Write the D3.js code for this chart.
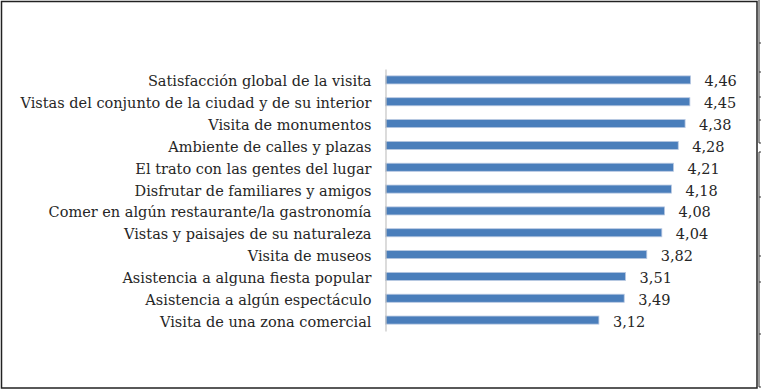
<!DOCTYPE html>
<html>
<head>
<meta charset="utf-8">
<script src="https://cdn.jsdelivr.net/npm/d3@7"></script>
<style>
  body { margin: 0; background: #fff; }
  svg text { font-family: "DejaVu Serif", serif; fill: #262626; }
</style>
</head>
<body>
<svg width="761" height="391"></svg>
<script>
// data
var categories = [
  "Satisfacción global de la visita",
  "Vistas del conjunto de la ciudad y de su interior",
  "Visita de monumentos",
  "Ambiente de calles y plazas",
  "El trato con las gentes del lugar",
  "Disfrutar de familiares y amigos",
  "Comer en algún restaurante/la gastronomía",
  "Vistas y paisajes de su naturaleza",
  "Visita de museos",
  "Asistencia a alguna fiesta popular",
  "Asistencia a algún espectáculo",
  "Visita de una zona comercial"
];
var values = [4.46, 4.45, 4.38, 4.28, 4.21, 4.18, 4.08, 4.04, 3.82, 3.51, 3.49, 3.12];
var xDomain = [0, 5];

var svg = d3.select("svg");

var es = d3.formatLocale({decimal: ",", thousands: ".", grouping: [3], currency: ["", " €"]});
var fmt = es.format(".2f");

var plot = {left: 385.5, right: 727.5, top: 69, bottom: 331};
var fontSize = 14.5;

var x = d3.scaleLinear()
    .domain(xDomain)
    .range([plot.left, plot.right]);

var y = d3.scaleBand()
    .domain(categories)
    .range([plot.top, plot.bottom])
    .paddingInner(0.63)
    .paddingOuter(0.315);

// outer frame
svg.append("rect")
    .attr("x", 1.5)
    .attr("y", 1.5)
    .attr("width", 755.5)
    .attr("height", 386.5)
    .attr("fill", "none")
    .attr("stroke", "#222")
    .attr("stroke-width", 1.5);

// bits of the page table peeking in on the right
var edge = svg.append("g").attr("stroke", "#333").attr("stroke-width", 1);
edge.append("line").attr("x1", 759).attr("x2", 759).attr("y1", 0).attr("y2", 143);
edge.append("line").attr("x1", 759).attr("x2", 761).attr("y1", 143).attr("y2", 143);
edge.append("line").attr("x1", 759).attr("x2", 759).attr("y1", 152).attr("y2", 387);
edge.append("line").attr("x1", 759).attr("x2", 761).attr("y1", 152).attr("y2", 152);
edge.append("line").attr("x1", 759).attr("x2", 761).attr("y1", 387).attr("y2", 387);
[43, 72, 97, 120, 197, 256, 282, 334].forEach(function(t) {
  edge.append("line").attr("x1", 759).attr("x2", 761).attr("y1", t).attr("y2", t);
});

// bars
svg.append("g")
  .selectAll("rect")
  .data(values)
  .enter()
  .append("rect")
    .attr("x", x(0))
    .attr("y", function(d, i) { return y(categories[i]); })
    .attr("width", function(d) { return x(d) - x(0); })
    .attr("height", y.bandwidth())
    .attr("fill", "#4a7ebb")
    .attr("stroke", "#b9c9e2")
    .attr("stroke-width", 0.8);

// category axis
var yAxis = d3.axisLeft(y).tickSize(0).tickPadding(14);
var ag = svg.append("g")
    .attr("transform", "translate(" + plot.left + ",0)")
    .call(yAxis);
ag.attr("font-family", null);
ag.select(".domain").attr("stroke", "#c4c4c4").attr("stroke-width", 1.2);
ag.selectAll(".tick text")
    .attr("font-size", fontSize)
    .attr("dy", "0.45em");

// value labels
svg.append("g")
  .selectAll("text")
  .data(values)
  .enter()
  .append("text")
    .attr("x", function(d) { return x(d) + 14; })
    .attr("y", function(d, i) { return y(categories[i]) + y.bandwidth() / 2; })
    .attr("dy", "0.45em")
    .attr("font-size", fontSize)
    .text(function(d) { return fmt(d); });
</script>
</body>
</html>
